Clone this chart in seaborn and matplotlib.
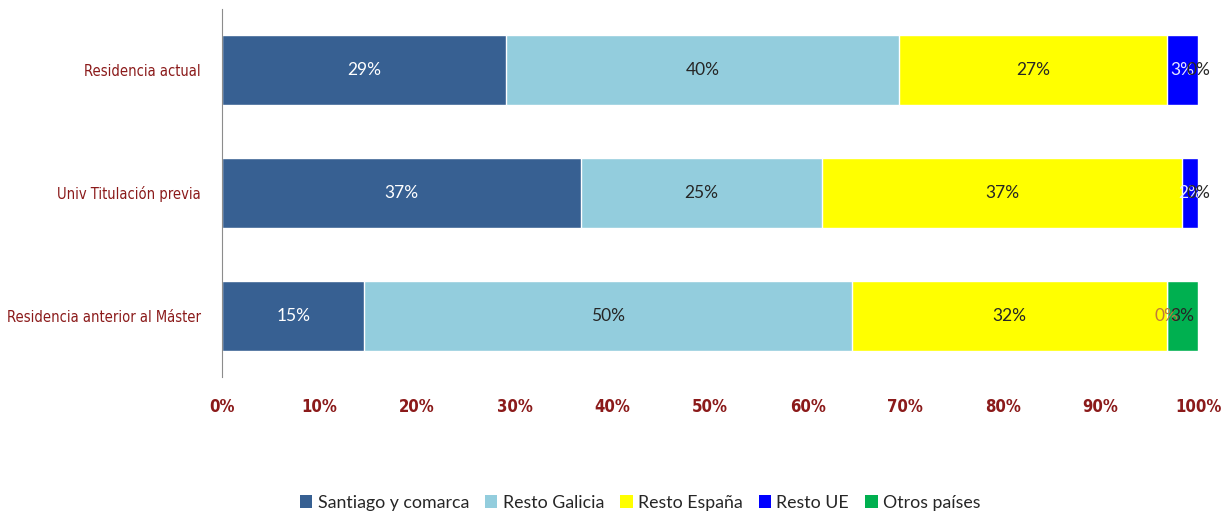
import matplotlib
matplotlib.use("Agg")
import matplotlib.pyplot as plt
from matplotlib.patches import Patch
import numpy as np
import pandas as pd
import seaborn as sns

categories = ["Residencia actual", "Univ Titulación previa", "Residencia anterior al Máster"]
series = ["Santiago y comarca", "Resto Galicia", "Resto España", "Resto UE", "Otros países"]
santiago = [29.1, 36.8, 14.6]
resto_galicia = [40.3, 24.7, 50.0]
resto_espana = [27.4, 36.9, 32.2]
resto_ue = [3.2, 1.6, 0.0]
otros = [0.0, 0.0, 3.2]
xticks = list(range(0, 101, 10))

colors = ["#376092", "#93CDDD", "#FFFF00", "#0000FF", "#00B050"]
label_colors = ["white", "#262626", "#262626", "#e8e8ff", "#262626"]

vals = np.array([santiago, resto_galicia, resto_espana, resto_ue, otros])
cum = vals.cumsum(axis=0)

sns.set_style("white")
fig = plt.figure(figsize=(12.31, 5.2), dpi=100)
ax = fig.add_axes([0.1803, 0.275, 0.7929, 0.7077])

# draw cumulative totals back to front so each segment shows
for i in range(len(series) - 1, -1, -1):
    df = pd.DataFrame({"cat": categories, "total": cum[i]})
    sns.barplot(data=df, x="total", y="cat", color=colors[i], width=0.57,
                saturation=1, ax=ax, orient="h")

for i in range(len(series)):
    for j in range(len(categories)):
        v = vals[i, j]
        center = cum[i, j] - v / 2
        c = label_colors[i]
        if i == 3 and v == 0:
            c = "#c07a3a"
        ax.text(center, j, f"{v:.0f}%", ha="center", va="center",
                fontsize=12.5, color=c, family=["Lato", "DejaVu Sans"])

ax.set_xlim(0, 100)
ax.set_ylim(2.5, -0.5)
ax.set_xticks(xticks)
ax.set_xticklabels([f"{t}%" for t in xticks])
ax.set_xlabel("")
ax.set_ylabel("")
for s in ["top", "right", "bottom"]:
    ax.spines[s].set_visible(False)
ax.spines["left"].set_color("#8c8c8c")
ax.tick_params(axis="both", length=0)
ax.tick_params(axis="x", pad=15)
ax.tick_params(axis="y", pad=15)
for lab in ax.get_xticklabels():
    lab.set_family(["DejaVu Sans", "Lato"])
    lab.set_stretch("condensed")
    lab.set_fontweight("bold")
    lab.set_fontsize(12)
    lab.set_color("#8B1A1A")
for lab in ax.get_yticklabels():
    lab.set_family(["DejaVu Sans", "Lato"])
    lab.set_stretch("condensed")
    lab.set_fontsize(10.5)
    lab.set_color("#8B1A1A")

handles = [Patch(facecolor=c, edgecolor="none") for c in colors]
fig.legend(handles, series, loc="center", bbox_to_anchor=(0.52, 0.033), ncol=5,
           frameon=False, handlelength=0.7, handleheight=0.7, handletextpad=0.3,
           columnspacing=0.9, prop={"family": ["Lato", "DejaVu Sans"], "size": 12.8})

fig.savefig("out.png", dpi=100)
